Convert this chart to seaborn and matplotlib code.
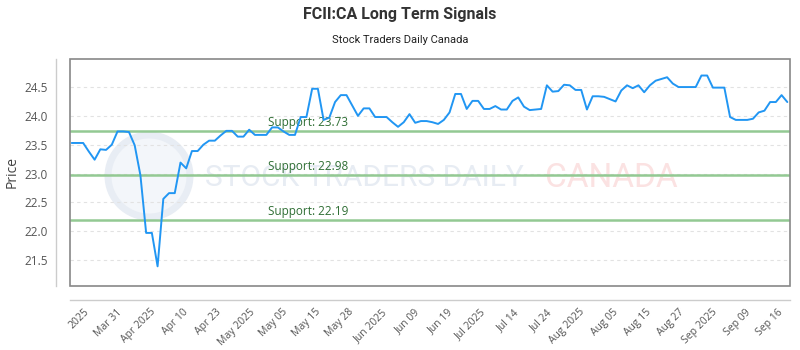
import numpy as np
import pandas as pd
import seaborn as sns
import matplotlib.pyplot as plt
from matplotlib.patches import Rectangle, Ellipse

# closing prices, one per trading day
price = [
    23.53, 23.53, 23.53, 23.38, 23.24, 23.42, 23.41, 23.50, 23.73, 23.73,
    23.72, 23.49, 22.97, 21.97, 21.97, 21.39, 22.56, 22.66, 22.66, 23.19,
    23.09, 23.39, 23.39, 23.50, 23.57, 23.57, 23.66, 23.74, 23.74, 23.64,
    23.64, 23.76, 23.67, 23.67, 23.67, 23.80, 23.80, 23.73, 23.67, 23.67,
    23.98, 23.98, 24.47, 24.47, 23.93, 23.97, 24.24, 24.36, 24.36, 24.18,
    24.00, 24.13, 24.13, 23.98, 23.98, 23.98, 23.89, 23.81, 23.89, 24.03,
    23.88, 23.91, 23.91, 23.89, 23.86, 23.93, 24.06, 24.38, 24.38, 24.12,
    24.26, 24.26, 24.12, 24.12, 24.17, 24.11, 24.11, 24.26, 24.32, 24.16,
    24.10, 24.11, 24.12, 24.53, 24.42, 24.43, 24.54, 24.53, 24.45, 24.45,
    24.11, 24.34, 24.34, 24.33, 24.29, 24.25, 24.44, 24.53, 24.48, 24.53,
    24.41, 24.53, 24.61, 24.64, 24.67, 24.56, 24.50, 24.50, 24.50, 24.50,
    24.70, 24.70, 24.49, 24.49, 24.49, 23.98, 23.93, 23.93, 23.93, 23.95,
    24.06, 24.09, 24.24, 24.24, 24.36, 24.24,
]
day = np.arange(len(price))

support_levels = [23.73, 22.98, 22.19]

x_labels = [
    "2025", "Mar 31", "Apr 2025", "Apr 10", "Apr 23", "May 2025", "May 05",
    "May 15", "May 28", "Jun 2025", "Jun 09", "Jun 19", "Jul 2025", "Jul 14",
    "Jul 24", "Aug 2025", "Aug 05", "Aug 15", "Aug 27", "Sep 2025", "Sep 09",
    "Sep 16",
]
y_ticks = [21.5, 22.0, 22.5, 23.0, 23.5, 24.0, 24.5]

df = pd.DataFrame({"day": day, "price": price})

sns.set_theme(style="white")
plt.rcParams["font.family"] = ["Open Sans", "DejaVu Sans"]

fig = plt.figure(figsize=(8, 3.5), dpi=100)
ax = fig.add_axes([0.0875, 0.183, 0.9, 0.649])

# spines first: moving them rebuilds the ticks
for side in ["left", "bottom"]:
    ax.spines[side].set_position(("outward", 10))
    ax.spines[side].set_color("#cccccc")
    ax.spines[side].set_linewidth(1)
for side in ["top", "right"]:
    ax.spines[side].set_visible(False)

# faint watermark behind the data
ax.add_patch(Ellipse((149 / 800, 1 - 176 / 350), 82 / 800, 82 / 350,
                     transform=fig.transFigure, facecolor="#f3f6fa",
                     edgecolor="#e8edf4", lw=5, zorder=0.2))
ax.text(205 / 800, 1 - 178 / 350, "STOCK TRADERS DAILY", fontsize=21.5,
        family="Roboto", color="#e7ecf3", va="center", ha="left",
        transform=fig.transFigure, zorder=0.3)
ax.text(545 / 800, 1 - 178 / 350, "CANADA", fontsize=24,
        family="Roboto", color="#fbe2e2", va="center", ha="left",
        transform=fig.transFigure, zorder=0.3)

for lvl in support_levels:
    ax.axhline(lvl, color="#93c993", lw=1.8, zorder=2)
    ax.annotate(f"Support: {lvl:.2f}", xy=(0.275, lvl),
                xycoords=("axes fraction", "data"), xytext=(0, 1.5),
                textcoords="offset points", fontsize=8.5, color="#2f6e34",
                va="bottom", ha="left", zorder=3)

sns.lineplot(data=df, x="day", y="price", ax=ax, color="#2196f3",
             lw=1.4, zorder=4)

ax.set_xlim(-0.3, len(price) - 1 + 0.47)
ax.set_ylim(21.05, 24.99)
ax.set_yticks(y_ticks)
ax.set_yticklabels([f"{t:.1f}" for t in y_ticks])
ax.set_xticks(np.linspace(3.5, 124.7, len(x_labels)))
ax.set_xticklabels(x_labels)
ax.tick_params(axis="y", length=0, labelsize=8.5, colors="#555555", pad=6)
ax.tick_params(axis="x", length=0, labelsize=7.5, colors="#555555", pad=5,
               labelrotation=45)
for lab in ax.get_xticklabels():
    lab.set_ha("right")
    lab.set_rotation_mode("default")
ax.set_xlabel("")
ax.set_ylabel("Price", fontsize=10, color="#444444", labelpad=3)

ax.grid(axis="y", color="#e2e2e2", ls=(0, (3, 3)), lw=0.8, zorder=1)
ax.grid(axis="x", visible=False)
ax.set_axisbelow(True)

ax.add_patch(Rectangle((0, 0), 1, 1, transform=ax.transAxes, fill=False,
                       edgecolor="#888888", lw=1.2, clip_on=False, zorder=5))

fig.text(0.5, 1 - 15 / 350, "FCII:CA Long Term Signals", ha="center",
         va="center", fontsize=11.5, fontweight="bold", family="Roboto",
         color="#333333")
fig.text(0.5, 1 - 40 / 350, "Stock Traders Daily Canada", ha="center",
         va="center", fontsize=8, family="Roboto", color="#222222")

fig.savefig("out.png", dpi=100)
